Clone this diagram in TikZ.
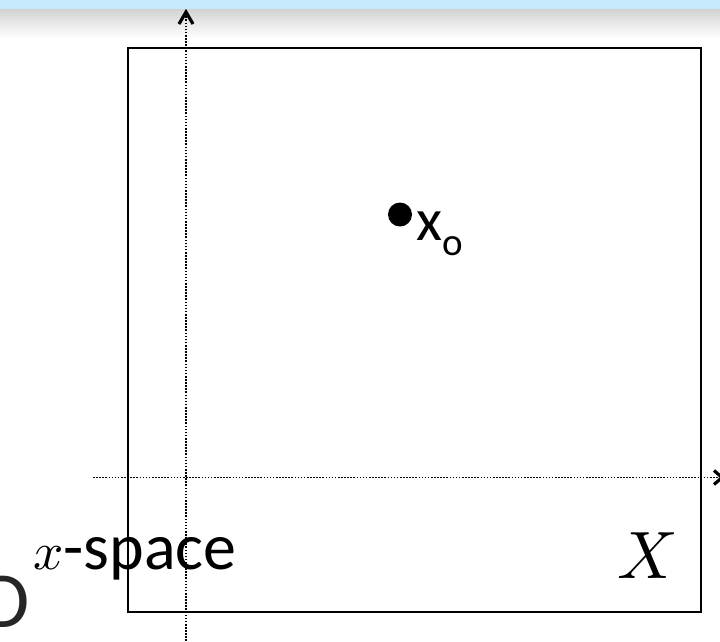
\documentclass[tikz,border=0pt]{standalone}
\usepackage{graphicx}
\usepackage{fontspec}
\setmainfont{Carlito}
\definecolor{bandblue}{HTML}{C6EAFC}
\definecolor{bandgray}{HTML}{D2D2D2}
\tikzset{
  axisline/.style={line width=1.9pt, dash pattern=on 1.6pt off 1.5pt},
  chevron/.style={line width=3.2pt, line join=miter, line cap=butt},
  boxline/.style={line width=2pt, draw=black},
  bigtext/.style={inner sep=0pt, font=\fontsize{66}{76}\selectfont},
}
\begin{document}
\begin{tikzpicture}[x=1pt,y=-1pt]
\useasboundingbox (0,0) rectangle (720,641);
% top band
\fill[bandblue] (0,0) rectangle (720,9);
\shade[top color=bandgray, bottom color=white] (0,9) rectangle (720,38);
% frame
\node[boxline, draw, minimum width=573pt, minimum height=564pt, anchor=north west, inner sep=0pt] (box) at (126.5,47) {};
% axes
\coordinate (vbot) at (186,641);
\coordinate (vtop) at (186,14);
\coordinate (hleft) at (93,477.5);
\coordinate (hright) at (719,477.5);
\draw[axisline] (vbot) -- (vtop);
\draw[axisline] (hleft) -- (hright);
% arrow tips
\draw[chevron] (179,24) -- (186,12) -- (193,24);
\draw[chevron] (714,470.5) -- (722,477.5) -- (714,484.5);
% point
\fill (400,214.5) circle (12pt) coordinate (pt);
\node[inner sep=0pt, font=\fontsize{60}{72}\selectfont, anchor=base west] (xo) at (416,240) {x\raisebox{-15pt}{\fontsize{39}{40}\selectfont o}};
% labels
\node[bigtext, anchor=base west] (xspace) at (33,569) {\scalebox{5.3}{\normalsize$x$}-space};
\node[inner sep=0pt, anchor=base east] (Xlab) at (678,578) {\scalebox{6.7}{\normalsize$X$}};
\node[inner sep=0pt, anchor=base east, text=black!85, font=\fontsize{80}{90}\selectfont] (Dfrag) at (30,627) {D};
\end{tikzpicture}
\end{document}
